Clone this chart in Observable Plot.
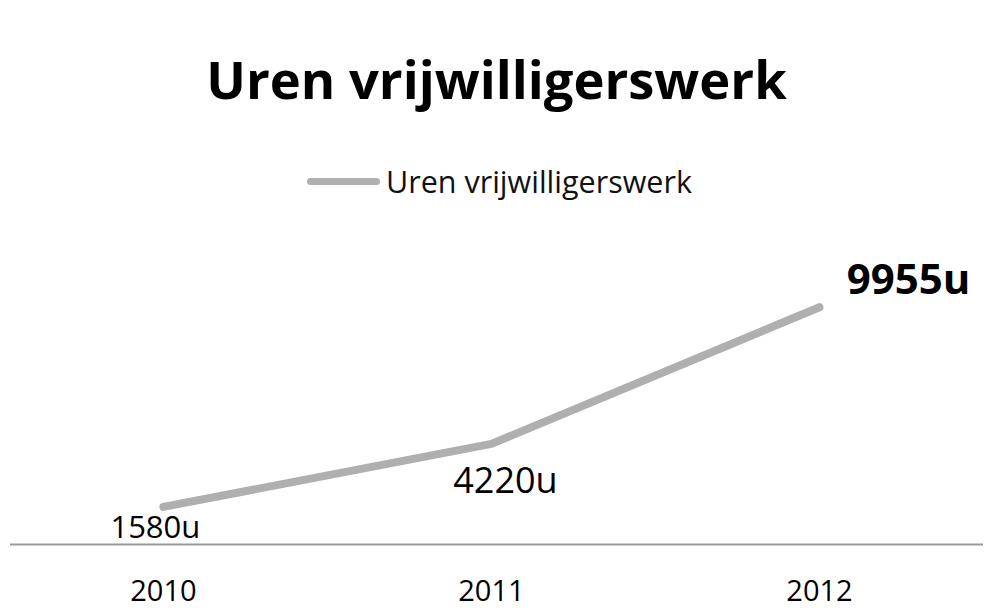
<!DOCTYPE html>
<html><head><meta charset="utf-8">
<script src="https://cdn.jsdelivr.net/npm/d3@7"></script>
<script src="https://cdn.jsdelivr.net/npm/@observablehq/plot@0.6"></script>
<style>
body{margin:0;background:#fff;}
#wrap{position:relative;width:1005px;height:611px;font-family:"Open Sans",sans-serif;overflow:hidden;}
#title{position:absolute;left:0;width:993px;top:53px;text-align:center;font-weight:700;font-size:52.5px;line-height:1;color:#000;white-space:nowrap;}
#legend{position:absolute;left:307px;top:164px;height:34px;display:flex;align-items:center;white-space:nowrap;}
#legend .sw{display:inline-block;width:73px;height:7px;border-radius:4px;background:#afafaf;margin-right:6px;}
#legend .lt{font-size:30.5px;line-height:34px;color:#111;}
#chart{position:absolute;left:0;top:220px;}
</style></head>
<body>
<div id="wrap">
  <div id="title">Uren vrijwilligerswerk</div>
  <div id="legend"><span class="sw"></span><span class="lt">Uren vrijwilligerswerk</span></div>
  <div id="chart"></div>
</div>
<script>
const seriesName = "Uren vrijwilligerswerk";
const years = [2010, 2011, 2012];
const hours = [1580, 4220, 9955];
const valueLabels = ["1580u", "4220u", "9955u"];

const data = years.map((y, i) => ({year: y, hours: hours[i], label: valueLabels[i]}));

const chart = Plot.plot({
  width: 1005,
  height: 391,
  marginLeft: 10,
  marginRight: 22,
  marginTop: 38,
  marginBottom: 67,
  style: {fontFamily: "Open Sans, sans-serif", background: "transparent", overflow: "visible", color: "#000"},
  x: {type: "linear", domain: [2009.534, 2012.5], axis: null, label: null},
  y: {domain: [0, 12000], axis: null, label: null},
  marks: [
    Plot.ruleY([0], {stroke: "#9a9a9a", strokeWidth: 2}),
    Plot.axisX(years, {tickSize: 0, tickPadding: 36, tickFormat: d => String(d), fontSize: 29, fill: "#000", label: null}),
    Plot.line(data, {x: "year", y: "hours", stroke: "#afafaf", strokeWidth: 8, strokeLinecap: "round", strokeLinejoin: "round"}),
    Plot.text(data.filter((d, i) => i === 0), {x: "year", y: "hours", text: "label", fontSize: 31, dx: -8, dy: 21, fill: "#000"}),
    Plot.text(data.filter((d, i) => i === 1), {x: "year", y: "hours", text: "label", fontSize: 36, dx: 14, dy: 38, fill: "#000"}),
    Plot.text(data.filter((d, i) => i === 2), {x: "year", y: "hours", text: "label", fontSize: 42, fontWeight: "bold", dx: 89, dy: -27, fill: "#000"})
  ]
});
document.getElementById("chart").appendChild(chart);
</script>
</body></html>
